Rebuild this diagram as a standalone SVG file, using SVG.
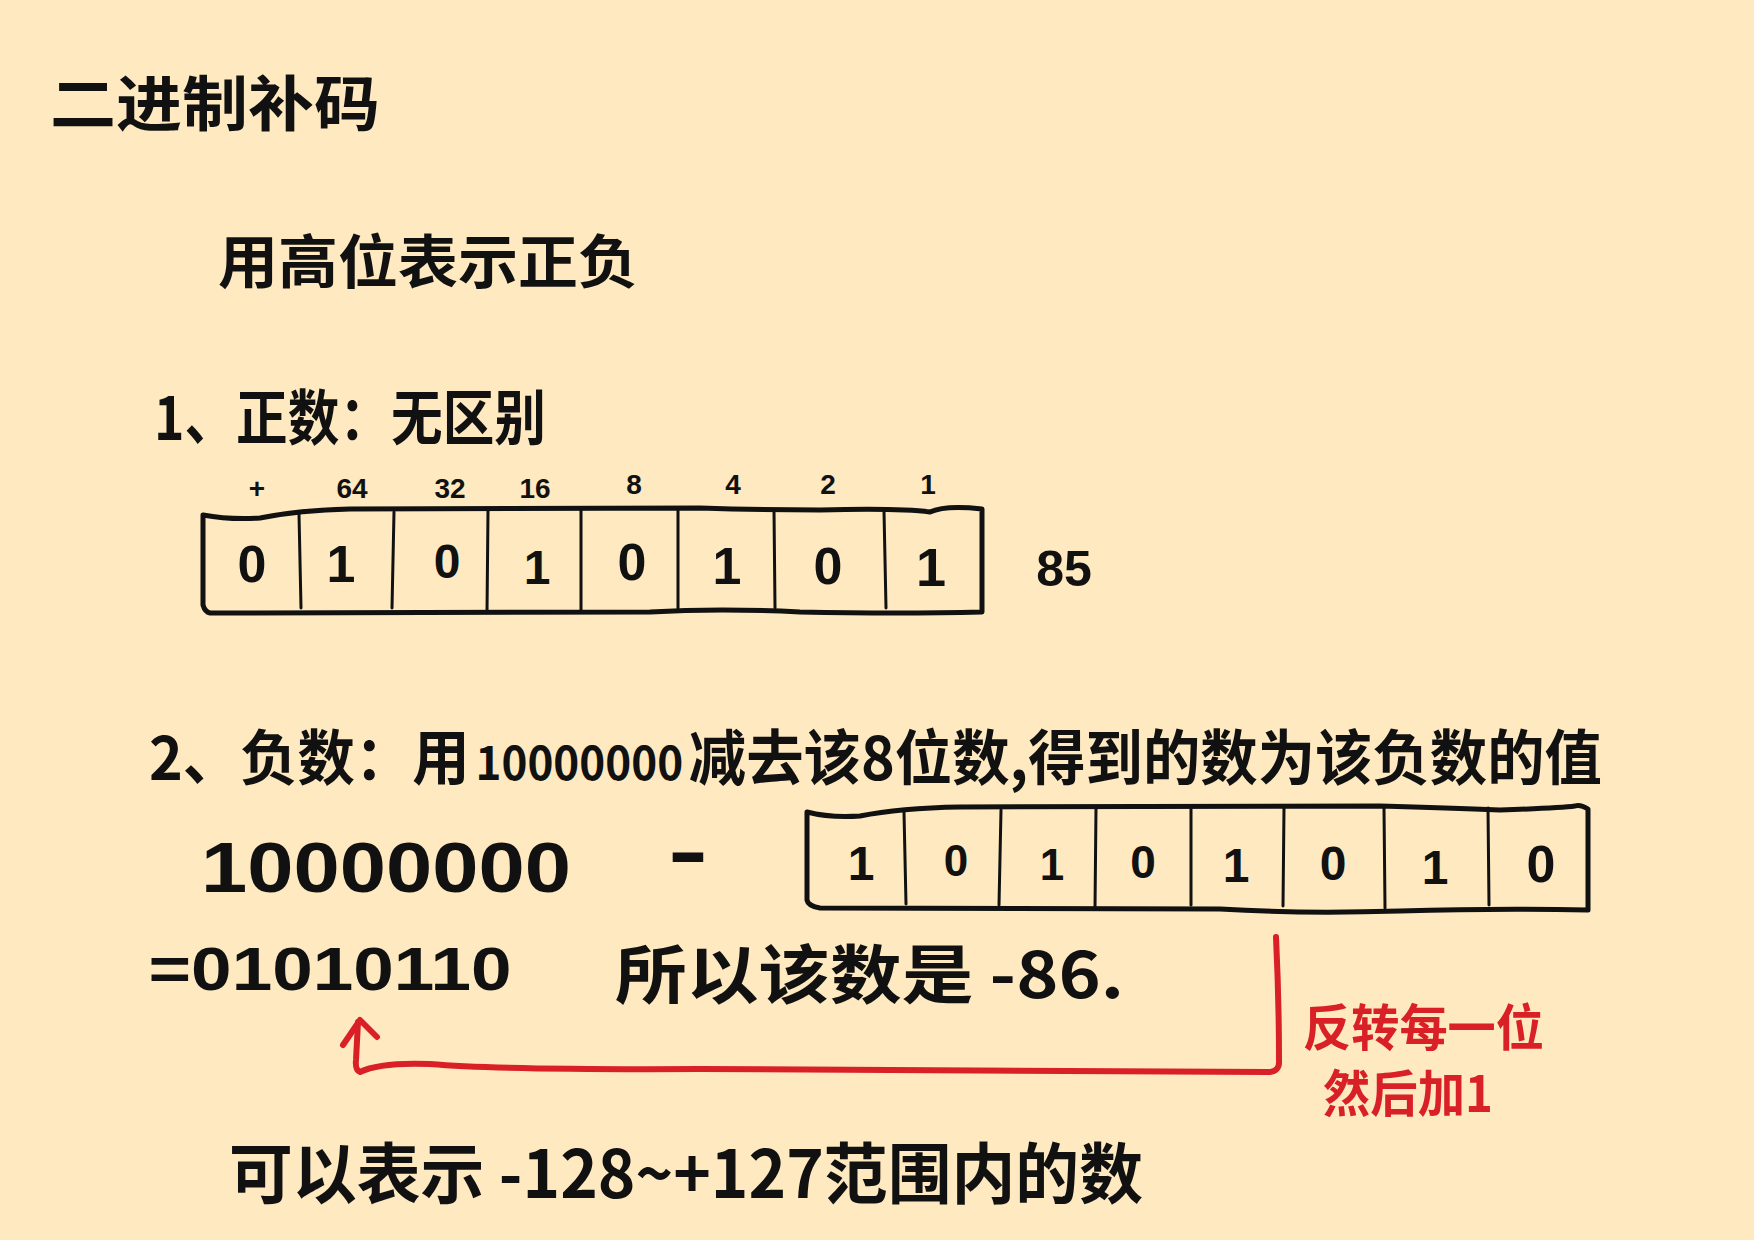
<svg xmlns="http://www.w3.org/2000/svg" width="1754" height="1240" viewBox="0 0 1754 1240">
<defs>
<style>
.t{font-family:"Noto Sans CJK SC","Liberation Sans",sans-serif;font-weight:700;fill:#111;}
.d{font-family:"Liberation Sans","Noto Sans CJK SC",sans-serif;font-weight:700;fill:#111;text-anchor:middle;}
.lbl{font-family:"Liberation Sans",sans-serif;font-weight:700;fill:#111;text-anchor:middle;font-size:28px;}
.red{font-family:"Noto Sans CJK SC","Liberation Sans",sans-serif;font-weight:700;fill:#D92027;}
.box{fill:none;stroke:#111;stroke-width:5;stroke-linecap:round;stroke-linejoin:round;}
.div{fill:none;stroke:#111;stroke-width:3;stroke-linecap:round;}
.arrow{fill:none;stroke:#D92027;stroke-width:6;stroke-linecap:round;stroke-linejoin:round;}
</style>
</defs>
<rect width="1754" height="1240" fill="#FEE9C0"/>

<g id="title">
<text class="t" x="50" y="126" font-size="60" textLength="330" lengthAdjust="spacingAndGlyphs">二进制补码</text>
</g>

<g id="subtitle">
<text class="t" x="218" y="283" font-size="58" textLength="420" lengthAdjust="spacingAndGlyphs">用高位表示正负</text>
</g>

<g id="positive-heading">
<text class="t" x="154" y="440" font-size="60" textLength="392" lengthAdjust="spacingAndGlyphs">1、正数：无区别</text>
</g>

<g id="bit-weights">
<text class="lbl" x="257" y="498">+</text>
<text class="lbl" x="352" y="498">64</text>
<text class="lbl" x="450" y="498">32</text>
<text class="lbl" x="535" y="498">16</text>
<text class="lbl" x="634" y="494">8</text>
<text class="lbl" x="733" y="494">4</text>
<text class="lbl" x="828" y="494">2</text>
<text class="lbl" x="928" y="494">1</text>
</g>

<g id="positive-box">
<path class="box" d="M203 515 Q230 520 260 518 Q300 510 350 509 L700 508 Q760 510 820 510 Q900 508 930 512 Q945 505 982 509 L982 612 Q900 614 800 612 Q720 608 650 612 L210 613 Q205 612 203 605 Z"/>
<path class="div" d="M299 514 L301 608 M394 512 L392 608 M488 511 L487 612 M581 510 L581 610 M678 509 L678 608 M774 510 L775 608 M884 511 L886 608"/>
<text class="d" x="252" y="582" font-size="52">0</text>
<text class="d" x="341" y="582" font-size="52">1</text>
<text class="d" x="447" y="578" font-size="48">0</text>
<text class="d" x="537" y="584" font-size="48">1</text>
<text class="d" x="632" y="580" font-size="52">0</text>
<text class="d" x="727" y="584" font-size="52">1</text>
<text class="d" x="828" y="584" font-size="52">0</text>
<text class="d" x="931" y="586" font-size="54">1</text>
</g>

<g id="value-85">
<text class="d" x="1064" y="586" font-size="50">85</text>
</g>

<g id="negative-heading">
<text class="t" x="149" y="780" font-size="60" textLength="1453" lengthAdjust="spacingAndGlyphs">2、负数：用<tspan font-size="46" dx="6">10000000</tspan><tspan dx="6">减去该8位数,得到的数为该负数的值</tspan></text>
</g>

<g id="minuend">
<text class="d" x="386" y="892" font-size="70" textLength="370" lengthAdjust="spacingAndGlyphs">10000000</text>
<text class="d" x="688" y="878" font-size="80" textLength="40" lengthAdjust="spacingAndGlyphs">-</text>
</g>

<g id="negative-box">
<path class="box" d="M807 812 Q830 818 860 816 Q900 808 960 807 L1380 806 Q1450 808 1500 810 Q1560 808 1575 806 Q1580 804 1588 809 L1588 910 Q1500 908 1400 911 Q1300 914 1220 909 L820 908 Q808 906 807 900 Z"/>
<path class="div" d="M904 812 L906 904 M1001 810 L999 905 M1096 808 L1095 908 M1191 808 L1191 905 M1284 808 L1283 906 M1384 808 L1385 908 M1488 808 L1489 905"/>
<text class="d" x="861" y="880" font-size="48">1</text>
<text class="d" x="956" y="876" font-size="44">0</text>
<text class="d" x="1052" y="880" font-size="44">1</text>
<text class="d" x="1143" y="878" font-size="46">0</text>
<text class="d" x="1236" y="882" font-size="48">1</text>
<text class="d" x="1333" y="880" font-size="48">0</text>
<text class="d" x="1435" y="884" font-size="48">1</text>
<text class="d" x="1541" y="882" font-size="52">0</text>
</g>

<g id="result">
<text class="d" x="330" y="990" font-size="62" textLength="363" lengthAdjust="spacingAndGlyphs">=01010110</text>
</g>

<g id="conclusion">
<text class="t" x="615" y="998" font-size="64" textLength="509" lengthAdjust="spacingAndGlyphs">所以该数是 -86.</text>
</g>

<g id="connectors">
<path class="arrow" d="M1276 937 Q1279 1000 1279 1060 Q1280 1072 1268 1072 L700 1069 Q500 1070 430 1064 Q380 1062 360 1072 Q355 1070 356 1060 L358 1022"/>
<path class="arrow" d="M343 1045 L360 1020 L377 1037"/>
</g>

<g id="note">
<text class="red" x="1303" y="1046" font-size="50" textLength="241" lengthAdjust="spacingAndGlyphs">反转每一位</text>
<text class="red" x="1323" y="1112" font-size="50" textLength="170" lengthAdjust="spacingAndGlyphs">然后加1</text>
</g>

<g id="range">
<text class="t" x="229" y="1198" font-size="66" textLength="914" lengthAdjust="spacingAndGlyphs">可以表示 -128~+127范围内的数</text>
</g>
</svg>
